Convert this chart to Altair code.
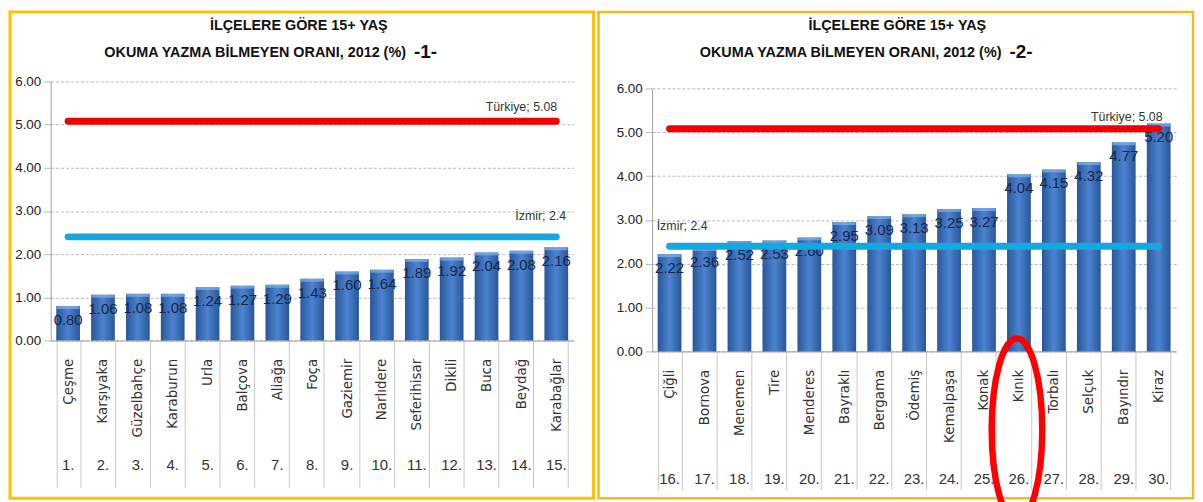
import altair as alt
import pandas as pd

names1 = ["Çeşme", "Karşıyaka", "Güzelbahçe", "Karaburun", "Urla", "Balçova", "Aliağa",
          "Foça", "Gaziemir", "Narlıdere", "Seferihisar", "Dikili", "Buca", "Beydağ", "Karabağlar"]
values1 = [0.80, 1.06, 1.08, 1.08, 1.24, 1.27, 1.29, 1.43, 1.60, 1.64, 1.89, 1.92, 2.04, 2.08, 2.16]
ranks1 = ["1.", "2.", "3.", "4.", "5.", "6.", "7.", "8.", "9.", "10.", "11.", "12.", "13.", "14.", "15."]

names2 = ["Çiğli", "Bornova", "Menemen", "Tire", "Menderes", "Bayraklı", "Bergama", "Ödemiş",
          "Kemalpaşa", "Konak", "Kınık", "Torbalı", "Selçuk", "Bayındır", "Kiraz"]
values2 = [2.22, 2.36, 2.52, 2.53, 2.60, 2.95, 3.09, 3.13, 3.25, 3.27, 4.04, 4.15, 4.32, 4.77, 5.20]
ranks2 = ["16.", "17.", "18.", "19.", "20.", "21.", "22.", "23.", "24.", "25.", "26.", "27.", "28.", "29.", "30."]

turkiye = 5.08
izmir = 2.4
y_ticks = [0, 1, 2, 3, 4, 5, 6]
title_line1 = "İLÇELERE GÖRE 15+ YAŞ"
title_line2 = "OKUMA YAZMA BİLMEYEN ORANI, 2012 (%)"

FONT = "Liberation Sans"
BAR_GRAD = alt.Gradient(
    gradient="linear", x1=0, x2=1, y1=0, y2=0,
    stops=[alt.GradientStop(color="#2A5698", offset=0),
           alt.GradientStop(color="#4C83D0", offset=0.5),
           alt.GradientStop(color="#2A5698", offset=1)])


def panel(names, values, ranks, num, W, H, yrange, tick_len, rank_y,
          border, border_color, border_w, tk_lbl, iz_lbl, t1x, t2x, numx, ellipse=None):
    df = pd.DataFrame({"name": names, "value": values, "rank": ranks})
    base = alt.Chart(df)
    x = alt.X("name:N", sort=names,
              scale=alt.Scale(paddingInner=0.32, paddingOuter=0.16),
              axis=alt.Axis(title=None, labelAngle=-90, labelAlign="right", labelBaseline="middle",
                            labelFont="DejaVu Sans", labelFontSize=13.5, labelColor="#333333",
                            labelPadding=18 - tick_len, tickBand="extent", tickSize=tick_len,
                            tickColor="#c8c8c8", domainColor="#a0a0a0"))
    y = alt.Y("value:Q",
              scale=alt.Scale(domain=[0, 6], range=yrange, nice=False, zero=True),
              axis=alt.Axis(title=None, values=y_ticks, format=".2f", grid=True,
                            gridDash=[3, 2], gridColor="#b8b8b8", tickColor="#b8b8b8",
                            tickSize=7, domainColor="#a0a0a0", labelFont=FONT,
                            labelFontSize=13.5, labelColor="#222222", labelPadding=3))

    x0, x1, y0, y1 = border
    frame = alt.Chart(pd.DataFrame({"k": [0]})).mark_rect(
        fill="white", fillOpacity=0, stroke=border_color, strokeWidth=border_w).encode(
        x=alt.value(x0), x2=alt.value(x1), y=alt.value(y0), y2=alt.value(y1))

    bars = base.mark_bar(color=BAR_GRAD).encode(x=x, y=y)
    caps = base.mark_tick(color="#86B2EA", thickness=3, size=23, yOffset=1.5).encode(x=x, y=y)
    vals = base.mark_text(baseline="top", dy=7, font=FONT, fontSize=15,
                          color="#16264A").encode(x=x, y=y, text=alt.Text("value:Q", format=".2f"))
    rank_txt = base.mark_text(font=FONT, fontSize=15, color="#333333", baseline="middle").encode(
        x=x, y=alt.value(rank_y), text="rank:N")

    red = base.mark_line(color="#F20000", strokeWidth=7, strokeCap="round").encode(
        x=x, y=alt.datum(turkiye))
    blue = base.mark_line(color="#14A8DE", strokeWidth=7, strokeCap="round").encode(
        x=x, y=alt.datum(izmir))

    tk = alt.Chart(pd.DataFrame({"name": [tk_lbl[0]], "v": [turkiye], "t": [f"Türkiye; {turkiye:.2f}"]})).mark_text(
        font=FONT, fontSize=12.5, color="#333333", align=tk_lbl[1], dx=tk_lbl[2], dy=tk_lbl[3]).encode(
        x=alt.X("name:N", sort=names), y=alt.Y("v:Q"), text="t:N")
    iz = alt.Chart(pd.DataFrame({"name": [iz_lbl[0]], "v": [izmir], "t": [f"İzmir; {izmir}"]})).mark_text(
        font=FONT, fontSize=12.5, color="#333333", align=iz_lbl[1], dx=iz_lbl[2], dy=iz_lbl[3]).encode(
        x=alt.X("name:N", sort=names), y=alt.Y("v:Q"), text="t:N")

    one = pd.DataFrame({"k": [0]})
    t1 = alt.Chart(one).mark_text(text=title_line1, font=FONT, fontSize=14.5, fontWeight="bold",
                                  color="#111111", baseline="middle", align="center").encode(
        x=alt.value(t1x), y=alt.value(-56))
    t2 = alt.Chart(one).mark_text(text=title_line2, font=FONT, fontSize=14.5, fontWeight="bold",
                                  color="#111111", baseline="middle", align="right").encode(
        x=alt.value(t2x), y=alt.value(-29))
    t3 = alt.Chart(one).mark_text(text=f"-{num}-", font=FONT, fontSize=19, fontWeight="bold",
                                  color="#111111", baseline="middle", align="left").encode(
        x=alt.value(numx), y=alt.value(-30))

    layers = [frame, bars, caps, vals, red, blue, tk, iz, rank_txt, t1, t2, t3]
    if ellipse is not None:
        a = 0.277
        k = 0.5523
        path = (f"M 0 -1 C {k*a:.4f} -1 {a} -{k} {a} 0 C {a} {k} {k*a:.4f} 1 0 1 "
                f"C -{k*a:.4f} 1 -{a} {k} -{a} 0 C -{a} -{k} -{k*a:.4f} -1 0 -1 Z")
        ell = alt.Chart(pd.DataFrame({"name": [ellipse[0]]})).mark_point(
            shape=path, size=ellipse[2], filled=False, stroke="#FF0000", strokeWidth=6.5, opacity=1).encode(
            x=alt.X("name:N", sort=names), y=alt.value(ellipse[1]), xOffset=alt.value(10))
        layers.append(ell)
    return alt.layer(*layers).properties(width=W, height=H)


left = panel(names1, values1, ranks1, 1, 527, 261, [261, 0], 148, 261 + 125,
             (-41, 547, -70, 420), "#FFC000", 3,
             (names1[-1], "right", 1, -14), (names1[-1], "right", 10, -21),
             250, 358, 366)
right = panel(names2, values2, ranks2, 2, 528, 272, [272, 7], 139, 272 + 129,
              (-54, 545, -70, 420), "#F5BA1E", 2.5,
              (names2[-1], "right", 4, -12), (names2[0], "left", -13, -20),
              247, 352, 360, ellipse=(names2[10], 351, 33856))

chart = alt.hconcat(left, right, spacing=1).properties(padding=0, background="white").configure_view(
    stroke=None)

chart.save("out.html", embed_options={"renderer": "svg", "actions": False})
